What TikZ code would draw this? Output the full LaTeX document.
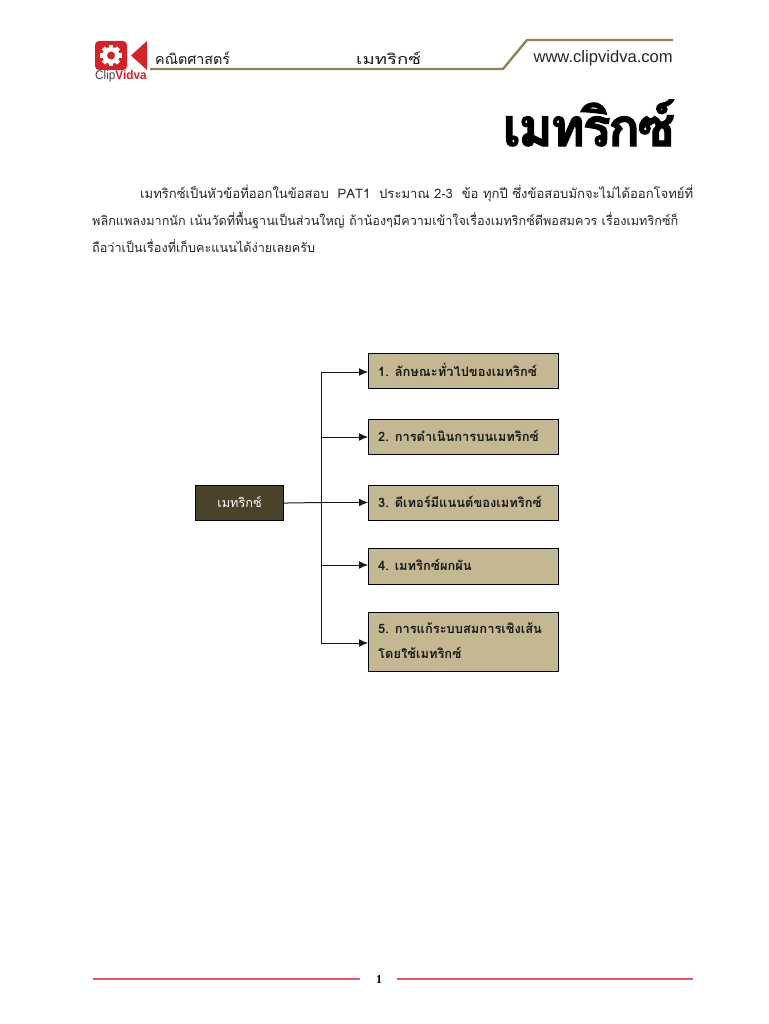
\documentclass[tikz,border=0pt]{standalone}
\usepackage{fontspec}
\setmainfont{Liberation Sans}
\newfontfamily\thaifont[Script=Thai]{Loma}
\newfontfamily\titlefont[Script=Thai,UprightFont=* Bold,FakeBold=2,LetterSpace=-5]{Loma}
\newfontfamily\latinserif{Liberation Serif}
\definecolor{tanbox}{HTML}{C3B891}
\definecolor{darkbox}{HTML}{4A4229}
\definecolor{goldline}{HTML}{8F8455}
\definecolor{logored}{HTML}{D2232A}
\definecolor{footred}{HTML}{DC5A6C}
\usetikzlibrary{arrows.meta}
\tikzset{
  x=1pt,y=-1pt,
  itembox/.style={draw=black,line width=1.1pt,fill=tanbox,minimum width=190pt,anchor=north west,inner sep=0pt},
  itemtext/.style={anchor=west,inner sep=0pt,font=\thaifont\bfseries\fontsize{12.9}{15}\selectfont,text=black!90},
  bodyline/.style={anchor=west,inner sep=0pt,font=\thaifont\fontsize{11.2}{13}\selectfont,text=black!85},
  headtext/.style={anchor=west,inner sep=0pt,font=\thaifont\fontsize{14.3}{16}\selectfont,text=black!90},
  link/.style={draw=black!90,line width=1pt},
  arr/.style={link,-{Latex[length=9pt,width=8pt]}},
}
\begin{document}
\begin{tikzpicture}
\useasboundingbox (0,0) rectangle (768,1024);
\fill[white] (0,0) rectangle (768,1024);
% logo
\fill[logored,rounded corners=4pt] (95,41) rectangle (127,70);
\fill[logored] (131,55.5) -- (147,41) -- (147,70) -- cycle;
\fill[white] (111,55.5) circle (8.5);
\foreach \a in {0,45,...,315}{\fill[white,rotate around={\a:(111,55.5)}] (108.8,44.8) rectangle (113.2,50);}
\fill[logored] (111,55.5) circle (4);
\node[anchor=west,inner sep=0pt] (logotext) at (95,76.5) {\scalebox{0.94}[1]{\fontsize{12.5}{14}\selectfont\textcolor{black!75}{Clip}\textcolor{logored}{\textbf{Vidva}}}};
% header
\draw[goldline,line width=2.4pt] (150,69) -- (503,69) -- (527,40) -- (673,40);
\node[headtext] (h1) at (155,58) {คณิตศาสตร์};
\node[headtext] (h2) at (356,58) {\scalebox{1.3}[1]{เมทริกซ์}};
\node[anchor=east,inner sep=0pt,font=\fontsize{16.6}{18}\selectfont,text=black!85] (h3) at (673,58) {www.clipvidva.com};
% title
\node[anchor=east,inner sep=0pt] (title) at (675,123) {\resizebox{172pt}{!}{\titlefont\fontsize{52}{56}\selectfont เมทริกซ์}};
% body
\node[bodyline] (l1) at (140,193) {\resizebox{553pt}{!}{เมทริกซ์เป็นหัวข้อที่ออกในข้อสอบ~~PAT1~~ประมาณ 2-3~~ข้อ ทุกปี ซึ่งข้อสอบมักจะไม่ได้ออกโจทย์ที่}};
\node[bodyline] (l2) at (92,220.5) {\resizebox{586pt}{!}{พลิกแพลงมากนัก เน้นวัดที่พื้นฐานเป็นส่วนใหญ่ ถ้าน้องๆมีความเข้าใจเรื่องเมทริกซ์ดีพอสมควร เรื่องเมทริกซ์ก็}};
\node[bodyline] (l3) at (92,246.5) {\resizebox{223pt}{!}{ถือว่าเป็นเรื่องที่เก็บคะแนนได้ง่ายเลยครับ}};
% diagram
\node[draw=black,line width=1.1pt,fill=darkbox,minimum width=88pt,minimum height=35pt,inner sep=0pt,anchor=north west,text=white,font=\thaifont\fontsize{12.7}{15}\selectfont] (m) at (195,485) {\raisebox{2pt}{เมทริกซ์}};
\node[itembox,minimum height=35pt] (b1) at (368,353) {};
\node[itembox,minimum height=35pt] (b2) at (368,419) {};
\node[itembox,minimum height=35pt] (b3) at (368,485) {};
\node[itembox,minimum height=36pt] (b4) at (368,548) {};
\node[itembox,minimum height=59pt] (b5) at (368,612) {};
\node[itemtext] (t1) at (378,370) {1. ลักษณะทั่วไปของเมทริกซ์};
\node[itemtext] (t2) at (378,436) {2. การดำเนินการบนเมทริกซ์};
\node[itemtext] (t3) at (378,502) {3. ดีเทอร์มีแนนต์ของเมทริกซ์};
\node[itemtext] (t4) at (378,565) {4. เมทริกซ์ผกผัน};
\node[itemtext] (t5) at (378,628) {5. การแก้ระบบสมการเชิงเส้น};
\node[itemtext] (t6) at (378,653) {โดยใช้เมทริกซ์};
\coordinate (c1) at (321,372);
\coordinate (c2) at (321,437);
\coordinate (c3) at (321,502.5);
\coordinate (c4) at (321,565);
\coordinate (c5) at (321,643);
\draw[link] (c1) -- (c5);
\draw[link] (m.east) -- (c3);
\draw[arr] (c1) -- (c1-|b1.west);
\draw[arr] (c2) -- (c2-|b2.west);
\draw[arr] (c3) -- (c3-|b3.west);
\draw[arr] (c4) -- (c4-|b4.west);
\draw[arr] (c5) -- (c5-|b5.west);
% footer
\draw[footred,line width=1.2pt] (93,979) -- (360,979);
\draw[footred,line width=1.2pt] (397,979) -- (693,979);
\node[inner sep=0pt,font=\latinserif\bfseries\fontsize{12}{14}\selectfont] (pg) at (379,980) {1};
\end{tikzpicture}
\end{document}
